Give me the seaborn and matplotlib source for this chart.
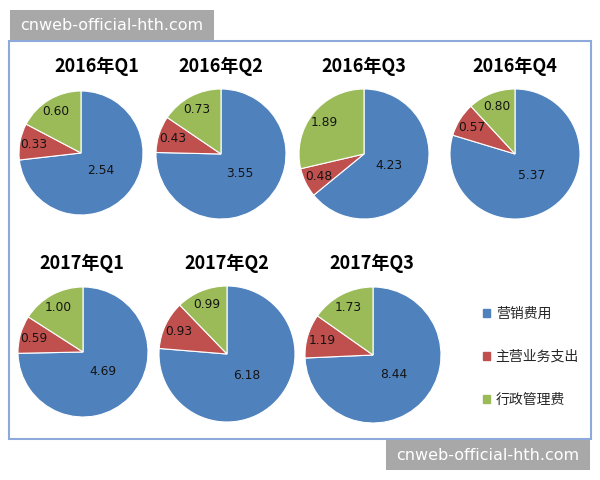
import numpy as np
import matplotlib.pyplot as plt
import seaborn as sns
from matplotlib.patches import Rectangle

sns.set_theme(style="white")
plt.rcParams['font.family'] = ['Noto Sans CJK SC', 'DejaVu Sans']

# data
quarters = ["2016年Q1", "2016年Q2", "2016年Q3", "2016年Q4",
            "2017年Q1", "2017年Q2", "2017年Q3"]
categories = ["营销费用", "主营业务支出", "行政管理费"]
marketing = [2.54, 3.55, 4.23, 5.37, 4.69, 6.18, 8.44]
main_business = [0.33, 0.43, 0.48, 0.57, 0.59, 0.93, 1.19]
admin = [0.60, 0.73, 1.89, 0.80, 1.00, 0.99, 1.73]

colors = sns.color_palette(["#4F81BD", "#C0504D", "#9BBB59"])

W, H = 600, 480
fig = plt.figure(figsize=(6, 4.8), dpi=100)

# pixel layout: pie centre x, centre y, radius, title x, title y
layout = [
    (81, 153, 62, 97, 66),
    (221, 154, 65, 221, 66),
    (364, 154, 65, 364, 66),
    (515, 154, 65, 515, 66),
    (83, 352, 65, 82, 263),
    (227, 354, 68, 227, 263),
    (373, 355, 68, 372, 263),
]

for i, q in enumerate(quarters):
    cx, cy, r, tx, ty = layout[i]
    ax = fig.add_axes([(cx - r) / W, 1 - (cy + r) / H, 2 * r / W, 2 * r / H])
    vals = [marketing[i], main_business[i], admin[i]]
    wedges, _ = ax.pie(vals, colors=colors, startangle=90, counterclock=False,
                       wedgeprops=dict(edgecolor="white", linewidth=0.8))
    ax.set_xlim(-1, 1)
    ax.set_ylim(-1, 1)
    for j, (w, v) in enumerate(zip(wedges, vals)):
        mid = np.deg2rad((w.theta1 + w.theta2) / 2)
        d = 0.42 if j == 0 else 0.78
        ax.text(d * np.cos(mid), d * np.sin(mid), f"{v:.2f}",
                ha="center", va="center", fontsize=8.8, color="#141414",
                family="DejaVu Sans")
    fig.text(tx / W, 1 - ty / H, q, ha="center", va="center",
             fontsize=13, fontweight="bold", color="black")

# legend
handles = [Rectangle((0, 0), 1, 1, color=c) for c in colors]
fig.legend(handles, categories, loc="center left",
           bbox_to_anchor=(470 / W, 1 - 357 / H), frameon=False,
           handlelength=0.55, handleheight=0.55, handletextpad=0.4,
           labelspacing=2.1, fontsize=10)

# chart border
fig.add_artist(Rectangle((9 / W, 1 - 439 / H), 582 / W, 398 / H,
                         transform=fig.transFigure, fill=False,
                         edgecolor="#8EAADB", linewidth=1.5))

# watermarks
for bx, by in [(10, 10), (386, 440)]:
    fig.add_artist(Rectangle((bx / W, 1 - (by + 30) / H), 204 / W, 30 / H,
                             transform=fig.transFigure, facecolor="#A8A8A8",
                             edgecolor="none"))
    fig.text((bx + 102) / W, 1 - (by + 15) / H, "cnweb-official-hth.com",
             ha="center", va="center", fontsize=11.5, color="white",
             family="DejaVu Sans")

fig.savefig("out.png", dpi=100)
